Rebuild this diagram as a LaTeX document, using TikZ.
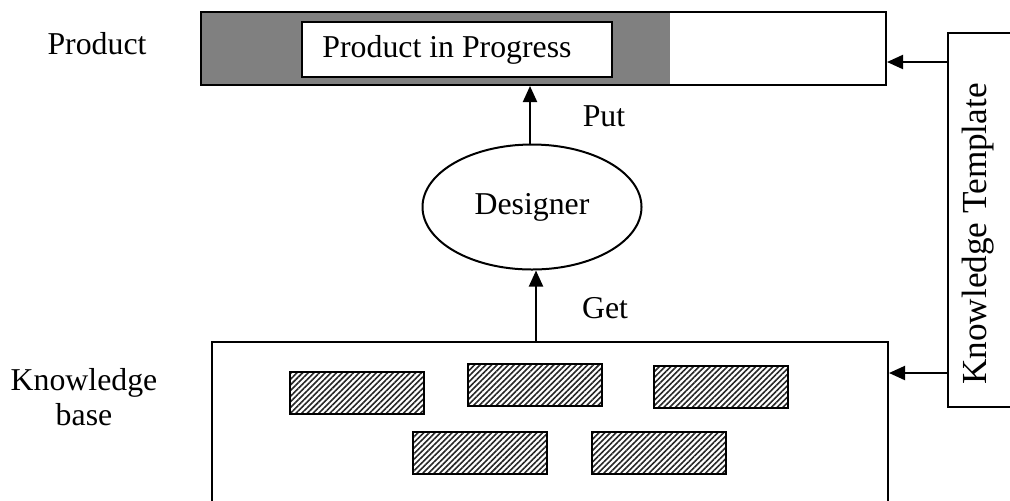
\documentclass[tikz,border=0pt]{standalone}
\usepackage{fontspec}
\setmainfont{Liberation Serif}
\usetikzlibrary{arrows.meta,fit,shapes.geometric,patterns.meta}

\begin{document}
\begin{tikzpicture}[x=0.5pt, y=-0.5pt, line width=1pt,
    font=\fontsize{15.9}{17.5}\selectfont,
    box/.style={draw, inner sep=0pt},
    hatchbox/.style={draw, minimum width=67pt, minimum height=21pt, inner sep=0pt,
        pattern={Lines[angle=45, distance=2pt, line width=0.8pt]}, pattern color=black!85},
    tip/.style={-{Triangle[length=8pt, width=7pt]}}]
    \useasboundingbox (0,0) rectangle (1010,500);

    % product bar, the grey part is the work already done
    \fill[black!50] (201,12) rectangle (670,85);
    \node[box, fit={(201,12) (886,85)}] (bar) {};
    \node[box, fill=white, fit={(302,22) (612,77)}] (progress) {};
    \node (progresstext) at (447,50) {Product in Progress};

    \node[draw, ellipse, minimum width=109.5pt, minimum height=62.5pt] (designer) at (532,207) {Designer};

    % knowledge base with its pieces
    \node[box, fit={(212,342) (888,520)}] (kb) {};
    \foreach \name/\x/\y in {k1/356.5/393, k2/535/384.5, k3/720.5/387, k4/479.5/453, k5/659/453}
        \node[hatchbox] (\name) at (\x,\y) {};

    \node[box, fit={(948,33) (1030,407)}] (tmpl) {};
    \node[rotate=90, font=\fontsize{17.6}{20}\selectfont] (tmpltext) at (978,234) {Knowledge Template};

    \node (prodlabel) at (97,44) {Product};
    \node[align=center] (kblabel) at (84,397) {Knowledge\\base};
    \node (put) at (604,116) {Put};
    \node (get) at (605,308) {Get};

    \draw[tip] (designer.north -| 530,0) -- (bar.south -| 530,0);
    \draw[tip] (kb.north -| 536,0) -- (designer.south -| 536,0);
    \draw[tip] (tmpl.west |- 0,62) -- (bar.east |- 0,62);
    \draw[tip] (tmpl.west |- 0,373) -- (kb.east |- 0,373);
\end{tikzpicture}
\end{document}
